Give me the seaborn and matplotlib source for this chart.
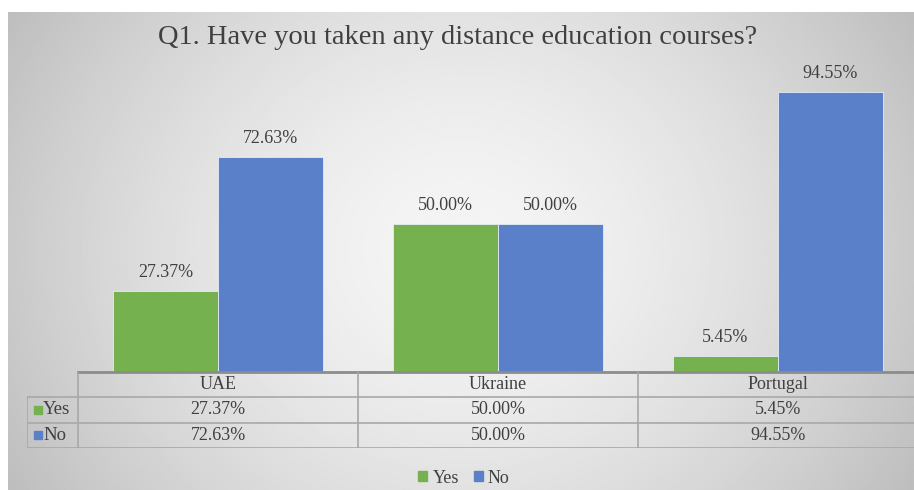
import numpy as np
import pandas as pd
import seaborn as sns
import matplotlib.pyplot as plt
from matplotlib.patches import Patch

# data
countries = ["UAE", "Ukraine", "Portugal"]
answers = ["Yes", "No"]
yes_pct = [27.37, 50.00, 5.45]
no_pct = [72.63, 50.00, 94.55]
colors = {"Yes": "#76B14F", "No": "#5A80C9"}

df = pd.DataFrame({
    "country": countries * 2,
    "answer": ["Yes"] * 3 + ["No"] * 3,
    "pct": yes_pct + no_pct,
})

sns.set_theme(style="white")
plt.rcParams["font.family"] = ["Liberation Serif", "DejaVu Serif"]
txt = "#404040"

W, H = 914, 490
fig = plt.figure(figsize=(W / 100, H / 100), dpi=100)
fig.patch.set_facecolor("white")


def box(x0, y0, x1, y1):
    # pixel box (top-left origin) -> figure rect
    return [x0 / W, 1 - y1 / H, (x1 - x0) / W, (y1 - y0) / H]


# gray radial background like the office chart
bg = fig.add_axes(box(8, 12, 914, 490))
yy, xx = np.mgrid[-1:1:240j, -1:1:480j]
r = np.sqrt(xx ** 2 + (yy * 0.6) ** 2)
shade = 0.96 - 0.17 * np.clip(r, 0, 1.3) ** 1.6
bg.imshow(shade, cmap="gray", vmin=0, vmax=1, aspect="auto")
bg.axis("off")

# bars
ax = fig.add_axes(box(78, 76, 918, 372))
sns.barplot(data=df, x="country", y="pct", hue="answer", hue_order=answers,
            palette=colors, saturation=1, width=0.75, gap=0, edgecolor="#e6ecf6",
            linewidth=0.6, legend=False, ax=ax)
for cont in ax.containers:
    ax.bar_label(cont, fmt="%.2f%%", padding=7, fontsize=13, color=txt)
ax.set_xlim(-0.5, 2.5)
ax.set_ylim(0, 100)
ax.set_xticks([])
ax.set_yticks([])
ax.set_xlabel("")
ax.set_ylabel("")
ax.set_facecolor("none")
for s in ["top", "right", "left"]:
    ax.spines[s].set_visible(False)
ax.spines["bottom"].set_color("#8c8c8c")
ax.spines["bottom"].set_linewidth(2)

# data table under the axis
tax = fig.add_axes(box(27, 372, 918, 448))
x_left = -0.5 - 51 / 280
tax.set_xlim(x_left, 2.5)
tax.set_ylim(3, 0)
tax.axis("off")
tax.patch.set_alpha(0)
lc = "#a8a8a8"
for yv in [1, 2, 3]:
    tax.plot([x_left, 2.5], [yv, yv], color=lc, lw=1.2)
for xv in [-0.5, 0.5, 1.5]:
    tax.plot([xv, xv], [0, 3], color=lc, lw=1.2)
tax.plot([x_left, x_left], [1, 3], color=lc, lw=1.2)

for i, c in enumerate(countries):
    tax.text(i, 0.5, c, ha="center", va="center", fontsize=13, color=txt)
    tax.text(i, 1.5, f"{yes_pct[i]:.2f}%", ha="center", va="center", fontsize=13, color=txt)
    tax.text(i, 2.5, f"{no_pct[i]:.2f}%", ha="center", va="center", fontsize=13, color=txt)
for row, a in zip([1.5, 2.5], answers):
    tax.plot([x_left + 11 / 280], [row], marker="s", ms=5.5, color=colors[a], ls="none")
    tax.text(x_left + 16 / 280, row, a, ha="left", va="center", fontsize=13.5, color=txt)

# title and legend
fig.text(458 / W, 1 - 37 / H, "Q1. Have you taken any distance education courses?",
         ha="center", va="center", fontsize=20.5, color=txt)
handles = [Patch(color=colors[a], label=a) for a in answers]
fig.legend(handles=handles, loc="center", bbox_to_anchor=(464 / W, 1 - 478 / H),
           ncol=2, frameon=False, fontsize=13, handlelength=0.5, handleheight=0.5,
           handletextpad=0.3, columnspacing=0.8, labelcolor=txt)

fig.savefig("out.png", dpi=100)
